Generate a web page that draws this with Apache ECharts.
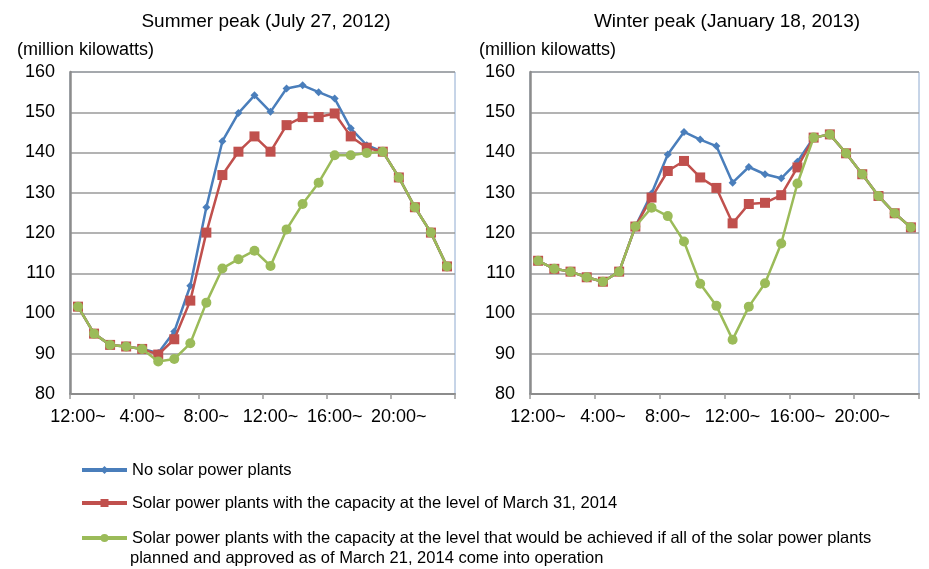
<!DOCTYPE html>
<html>
<head>
<meta charset="utf-8">
<script src="https://cdn.jsdelivr.net/npm/echarts@6/dist/echarts.min.js"></script>
<style>
  html, body { margin: 0; padding: 0; background: #fff; }
  #container { width: 929px; height: 569px; }
</style>
</head>
<body>
<div id="container"></div>
<script>
var dom = document.getElementById('container');
var myChart = echarts.init(dom, null, { renderer: 'canvas' });

// one category per hour, a label every 4 hours
var hours = ['12:00~', '1:00~', '2:00~', '3:00~', '4:00~', '5:00~', '6:00~', '7:00~', '8:00~', '9:00~', '10:00~', '11:00~',
             '12:00~', '13:00~', '14:00~', '15:00~', '16:00~', '17:00~', '18:00~', '19:00~', '20:00~', '21:00~', '22:00~', '23:00~'];

var seriesNames = [
    'No solar power plants',
    'Solar power plants with the capacity at the level of March 31, 2014',
    'Solar power plants with the capacity at the level that would be achieved if all of the solar power plants'
];
// second line of the third legend entry
var legendTail = 'planned and approved as of March 21, 2014 come into operation';

// summer peak (July 27, 2012)
var summerNoSolar = [101.7, 95.0, 92.2, 91.8, 91.2, 90.2, 95.5, 106.9, 126.4, 142.8, 149.8, 154.2,
                     150.1, 155.9, 156.7, 155.0, 153.4, 146.0, 141.8, 140.2, 133.8, 126.4, 120.1, 111.7];
var summerSolar2014 = [101.7, 95.0, 92.2, 91.8, 91.2, 89.8, 93.6, 103.2, 120.1, 134.4, 140.2, 144.0,
                       140.2, 146.8, 148.8, 148.8, 149.7, 144.0, 141.2, 140.2, 133.8, 126.4, 120.1, 111.7];
var summerAllPlanned = [101.7, 95.0, 92.2, 91.8, 91.2, 88.1, 88.7, 92.6, 102.7, 111.2, 113.5, 115.6,
                        111.8, 120.9, 127.2, 132.5, 139.3, 139.3, 139.9, 140.2, 133.8, 126.4, 120.1, 111.7];

// winter peak (January 18, 2013)
var winterNoSolar = [113.1, 111.1, 110.4, 109.0, 107.9, 110.4, 121.6, 129.8, 139.5, 145.1, 143.2, 141.6,
                     132.5, 136.4, 134.6, 133.6, 137.7, 143.7, 144.5, 139.8, 134.6, 129.2, 124.9, 121.4];
var winterSolar2014 = [113.1, 111.1, 110.4, 109.0, 107.9, 110.4, 121.6, 128.8, 135.4, 137.9, 133.8, 131.2,
                       122.4, 127.2, 127.5, 129.4, 136.3, 143.7, 144.5, 139.8, 134.6, 129.2, 124.9, 121.4];
var winterAllPlanned = [113.1, 111.1, 110.4, 109.0, 107.9, 110.4, 121.6, 126.3, 124.2, 117.9, 107.4, 101.9,
                        93.5, 101.7, 107.5, 117.4, 132.3, 143.7, 144.5, 139.8, 134.6, 129.2, 124.9, 121.4];

var colors = ['#4a7ebb', '#c0504d', '#9bbb59'];
var symbols = ['diamond', 'rect', 'circle'];
var symbolSizes = [8, 10, 10];
var font = "'Liberation Sans', Arial, sans-serif";

function makeX(idx) {
    return {
        type: 'category', gridIndex: idx, data: hours, boundaryGap: true,
        axisLine: { lineStyle: { color: '#8c8c8c', width: 2 } },
        axisTick: { show: true, interval: 3, length: 5, lineStyle: { color: '#9a9a9a', width: 1.5 } },
        axisLabel: { interval: 3, color: '#000', fontSize: 18, fontFamily: font, margin: 14 }
    };
}
function makeY(idx) {
    return {
        type: 'value', gridIndex: idx, min: 80, max: 160, interval: 10,
        axisLine: { show: true, lineStyle: { color: '#8c8c8c', width: 2.5 } },
        axisTick: { show: false },
        axisLabel: { color: '#000', fontSize: 18, fontFamily: font, margin: 15 },
        splitLine: { lineStyle: { color: '#9a9a9a', width: 1.5 } }
    };
}
function makeSeries(idx, datasets) {
    return datasets.map(function (d, i) {
        return {
            name: seriesNames[i], type: 'line', xAxisIndex: idx, yAxisIndex: idx,
            data: d, symbol: symbols[i], symbolSize: symbolSizes[i], showAllSymbol: true,
            lineStyle: { color: colors[i], width: 2.5 },
            itemStyle: { color: colors[i] },
            z: 2 + i
        };
    });
}
function makeLegend(i, top) {
    return {
        orient: 'vertical', left: 80, top: top, padding: 0, itemWidth: 45, itemHeight: 10, itemGap: 0,
        data: [seriesNames[i]],
        lineStyle: { width: 4 },
        textStyle: { fontSize: 16.5, color: '#000', fontFamily: font, lineHeight: 20 }
    };
}

var option = {
    backgroundColor: '#fff',
    animation: false,
    title: [
        { text: 'Summer peak (July 27, 2012)', left: 261, top: 7, textAlign: 'center',
          textStyle: { fontSize: 19, fontWeight: 'normal', color: '#000', fontFamily: font } },
        { text: 'Winter peak (January 18, 2013)', left: 722, top: 7, textAlign: 'center',
          textStyle: { fontSize: 19, fontWeight: 'normal', color: '#000', fontFamily: font } },
        { text: '(million kilowatts)', left: 12, top: 36,
          textStyle: { fontSize: 18, fontWeight: 'normal', color: '#000', fontFamily: font } },
        { text: '(million kilowatts)', left: 474, top: 36,
          textStyle: { fontSize: 18, fontWeight: 'normal', color: '#000', fontFamily: font } },
        { text: legendTail, left: 130, top: 548, padding: 0,
          textStyle: { fontSize: 16.5, fontWeight: 'normal', color: '#000', fontFamily: font, lineHeight: 20 } }
    ],
    legend: [
        makeLegend(0, 460),
        makeLegend(1, 493),
        makeLegend(2, 528)
    ],
    grid: [
        { left: 70, top: 72, right: 474, bottom: 175, show: true, borderColor: '#8eaad0', borderWidth: 1 },
        { left: 530, top: 72, right: 10, bottom: 175, show: true, borderColor: '#8eaad0', borderWidth: 1 }
    ],
    xAxis: [makeX(0), makeX(1)],
    yAxis: [makeY(0), makeY(1)],
    series: makeSeries(0, [summerNoSolar, summerSolar2014, summerAllPlanned])
        .concat(makeSeries(1, [winterNoSolar, winterSolar2014, winterAllPlanned]))
};

myChart.setOption(option);
window.addEventListener('resize', myChart.resize);
</script>
</body>
</html>
